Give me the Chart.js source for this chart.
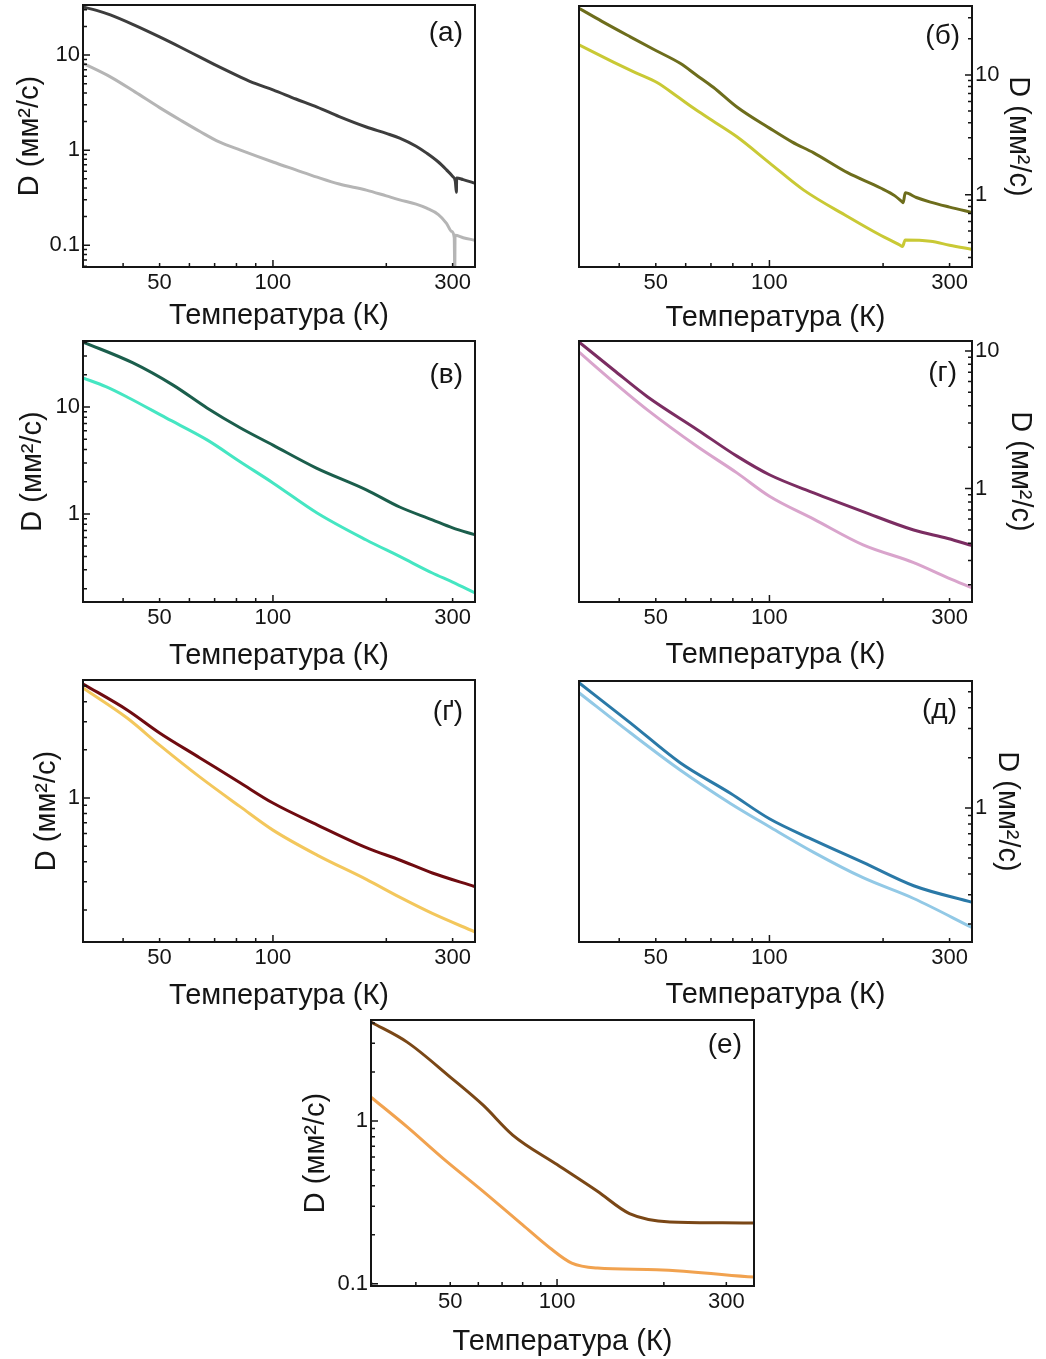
<!DOCTYPE html>
<html lang="uk">
<head>
<meta charset="UTF-8">
<title>D(T)</title>
<script src="https://cdn.jsdelivr.net/npm/chart.js@4/dist/chart.umd.min.js"></script>
<style>
  body { margin: 0; background: #fff; width: 1046px; height: 1359px; position: relative; overflow: hidden; }
  canvas { position: absolute; }
</style>
</head>
<body>
<canvas id="pA"></canvas>
<canvas id="pB"></canvas>
<canvas id="pV"></canvas>
<canvas id="pG"></canvas>
<canvas id="pGG"></canvas>
<canvas id="pD"></canvas>
<canvas id="pE"></canvas>
<script>
// tick labels
const xTicks = [50, 100, 300];
const xMinor = [30, 40, 50, 60, 70, 80, 90, 100, 200, 300];

// (а)
const tA1 = [31.3, 34, 37, 43, 50, 57, 64, 72, 82, 90, 100, 115, 131, 150, 177, 200, 217, 240, 256, 275, 289, 300, 305, 307, 307.5, 320, 343];
const dA1 = [32, 29.5, 26.4, 20.5, 15.5, 12, 9.5, 7.5, 5.87, 5.0, 4.3, 3.45, 2.84, 2.25, 1.75, 1.5, 1.34, 1.1, 0.93, 0.75, 0.62, 0.53, 0.47, 0.36, 0.51, 0.49, 0.45];
const tA2 = [31.3, 37, 43, 50, 57, 64, 72, 82, 100, 115, 131, 150, 177, 200, 217, 240, 256, 275, 289, 298, 303, 304, 304.5, 320, 343];
const dA2 = [8.2, 5.9, 4.1, 2.8, 2.05, 1.57, 1.22, 1.0, 0.75, 0.62, 0.52, 0.44, 0.38, 0.33, 0.30, 0.27, 0.245, 0.21, 0.17, 0.14, 0.12, 0.05, 0.127, 0.12, 0.113];

// (б)
const tB1 = [31.3, 36, 42.8, 50, 58, 64, 71, 82, 100, 115, 131, 161, 197, 215, 225, 226, 229, 245, 267, 300, 345];
const dB1 = [36, 28, 20.8, 16, 12.5, 10.0, 7.9, 5.4, 3.6, 2.75, 2.24, 1.53, 1.14, 0.98, 0.87, 0.86, 1.04, 0.95, 0.87, 0.79, 0.71];
const tB2 = [31.3, 38.6, 44, 50.5, 57, 64, 72, 82, 100, 123, 161, 197, 222, 225, 229, 267, 300, 345];
const dB2 = [17.8, 12.8, 10.5, 8.6, 6.6, 5.1, 4.0, 3.05, 1.85, 1.1, 0.66, 0.46, 0.38, 0.37, 0.42, 0.41, 0.38, 0.35];

// (в)
const tV1 = [31.3, 42.5, 54.3, 66.8, 81.8, 100, 130, 177, 217, 265, 300, 343];
const dV1 = [40.5, 25.8, 16, 9.8, 6.4, 4.4, 2.7, 1.68, 1.16, 0.88, 0.74, 0.64];
const tV2 = [31.3, 36, 41, 52, 67, 82, 100, 131, 177, 217, 265, 300, 343];
const dV2 = [18.7, 15.5, 12.4, 7.9, 4.9, 3.06, 1.95, 1.02, 0.57, 0.4, 0.28, 0.23, 0.183];

// (г)
const tG = [31.3, 38.6, 47.5, 64.4, 82, 100, 131, 177, 241, 297, 345];
const dG1 = [11.6, 7.3, 4.65, 2.68, 1.72, 1.26, 0.93, 0.68, 0.5, 0.434, 0.385];
const dG2 = [9.8, 5.96, 3.73, 2.02, 1.3, 0.88, 0.6, 0.39, 0.29, 0.225, 0.19];

// (ґ)
const tGG = [31.3, 41, 50, 64, 82, 100, 131, 177, 217, 265, 343];
const dGG1 = [5.16, 3.55, 2.55, 1.78, 1.24, 0.93, 0.68, 0.49, 0.41, 0.34, 0.28];
const dGG2 = [4.87, 3.16, 2.14, 1.35, 0.88, 0.63, 0.44, 0.31, 0.24, 0.19, 0.146];

// (д)
const tD = [31.3, 42.8, 58, 79, 100, 131, 177, 241, 345];
const dD1 = [5.66, 3.25, 1.87, 1.22, 0.86, 0.64, 0.47, 0.34, 0.27];
const dD2 = [4.93, 2.83, 1.69, 1.06, 0.77, 0.54, 0.38, 0.285, 0.19];

// (е)
const tE1 = [29.9, 37.8, 50, 61.9, 75, 100, 130, 160, 208, 293, 359];
const dE1 = [4.05, 3.05, 1.86, 1.25, 0.82, 0.54, 0.37, 0.27, 0.24, 0.237, 0.236];
const tE2 = [29.9, 37.8, 47.7, 61.9, 80, 95.5, 110, 130, 191, 359];
const dE2 = [1.4, 0.92, 0.59, 0.37, 0.23, 0.166, 0.134, 0.125, 0.122, 0.11];

const FONT = 'Arial, "Liberation Sans", sans-serif';
const INK = '#151515';

// box = canvas [left, top, right, bottom], plot = chart area, both in page px
const panels = [
  { id: 'pA', label: '(а)', side: 'left', box: [13, 0, 500, 333], plot: [83, 5, 475, 267], x: [31.3, 344], y: [0.059, 33.6], lab: [12, 28],
    series: [[tA1, dA1, '#3d3d3d'], [tA2, dA2, '#b5b5b5']] },
  { id: 'pB', label: '(б)', side: 'right', box: [540, 0, 1035, 335], plot: [579, 6, 972, 267], x: [31.3, 344], y: [0.25, 37.6], lab: [12, 30],
    series: [[tB1, dB1, '#6d6d1c'], [tB2, dB2, '#c9c935']] },
  { id: 'pV', label: '(в)', side: 'left', box: [16, 330, 500, 673], plot: [83, 341, 475, 602], x: [31.3, 344], y: [0.15, 41.4], lab: [12, 34],
    series: [[tV1, dV1, '#1b5e4c'], [tV2, dV2, '#45e6c2']] },
  { id: 'pG', label: '(г)', side: 'right', box: [540, 330, 1037, 672], plot: [579, 341, 972, 602], x: [31.3, 344], y: [0.15, 11.8], lab: [15, 32],
    series: [[tG, dG1, '#7b2d62'], [tG, dG2, '#d9a4cc']] },
  { id: 'pGG', label: '(ґ)', side: 'left', box: [30, 672, 500, 1013], plot: [83, 680, 475, 942], x: [31.3, 344], y: [0.126, 5.46], lab: [12, 32],
    series: [[tGG, dGG1, '#6f0b10'], [tGG, dGG2, '#f3c75c']] },
  { id: 'pD', label: '(д)', side: 'right', box: [540, 672, 1024, 1012], plot: [579, 681, 972, 942], x: [31.3, 344], y: [0.156, 5.8], lab: [15, 29],
    series: [[tD, dD1, '#2a79a7'], [tD, dD2, '#92c9e6']] },
  { id: 'pE', label: '(е)', side: 'left', box: [299, 1012, 780, 1359], plot: [371, 1020, 754, 1286], x: [29.9, 359], y: [0.097, 4.17], lab: [12, 25],
    series: [[tE1, dE1, '#7a4716'], [tE2, dE2, '#f1a24f']] }
];

const framePlugin = {
  id: 'frame',
  afterDatasetsDraw(chart, args, o) {
    const { ctx, chartArea: a, scales: { x, y } } = chart;
    ctx.save();
    ctx.strokeStyle = INK;
    ctx.lineWidth = 2;
    ctx.strokeRect(a.left, a.top, a.right - a.left, a.bottom - a.top);
    ctx.lineWidth = 1.5;
    ctx.beginPath();
    for (const v of xMinor) {
      if (v <= x.min || v >= x.max) continue;
      const px = x.getPixelForValue(v);
      const len = v === 100 ? 7 : 4;
      ctx.moveTo(px, a.bottom);
      ctx.lineTo(px, a.bottom - len);
    }
    const ex = o.side === 'left' ? a.left : a.right;
    const dir = o.side === 'left' ? 1 : -1;
    for (let e = -2; e <= 2; e++) {
      for (let k = 1; k <= 9; k++) {
        const v = k * Math.pow(10, e);
        if (v <= y.min || v >= y.max) continue;
        const py = y.getPixelForValue(v);
        const len = k === 1 ? 7 : 4;
        ctx.moveTo(ex, py);
        ctx.lineTo(ex + dir * len, py);
      }
    }
    ctx.stroke();
    ctx.fillStyle = INK;
    ctx.font = '28px ' + FONT;
    ctx.textAlign = 'right';
    ctx.textBaseline = 'middle';
    ctx.fillText(o.label, a.right - o.lab[0], a.top + o.lab[1]);
    ctx.restore();
  }
};

function decades(lo, hi) {
  const out = [];
  for (let e = -2; e <= 2; e++) {
    const v = Math.pow(10, e);
    if (v >= lo && v <= hi) out.push(v);
  }
  return out;
}

function makeChart(p) {
  const cv = document.getElementById(p.id);
  const [cl, ct, cr, cb] = p.box;
  const [pl, pt, pr, pb] = p.plot;
  cv.width = cr - cl;
  cv.height = cb - ct;
  cv.style.left = cl + 'px';
  cv.style.top = ct + 'px';
  const left = p.side === 'left';
  const yW = left ? pl - cl : cr - pr;
  const xH = cb - pb;
  const padding = left
    ? { left: 0, right: cr - pr, top: pt - ct, bottom: 0 }
    : { left: pl - cl, right: 0, top: pt - ct, bottom: 0 };
  const yTicks = decades(p.y[0], p.y[1]);

  new Chart(cv, {
    type: 'line',
    data: {
      datasets: p.series.map(s => ({
        data: s[0].map((t, i) => ({ x: t, y: s[1][i] })),
        borderColor: s[2],
        borderWidth: 3,
        pointRadius: 0,
        cubicInterpolationMode: 'monotone',
        fill: false
      }))
    },
    options: {
      responsive: false,
      animation: false,
      devicePixelRatio: 1,
      layout: { padding },
      plugins: {
        legend: { display: false },
        tooltip: { enabled: false },
        frame: { label: p.label, side: p.side, lab: p.lab }
      },
      scales: {
        x: {
          type: 'logarithmic',
          min: p.x[0], max: p.x[1],
          grid: { display: false, drawTicks: false },
          border: { display: false },
          afterBuildTicks: ax => { ax.ticks = xTicks.map(v => ({ value: v })); },
          afterFit: ax => { ax.height = xH; ax.paddingLeft = 0; ax.paddingRight = 0; },
          ticks: { autoSkip: false, maxRotation: 0, padding: 3, color: INK, font: { family: FONT, size: 22 }, callback: v => String(v) },
          title: { display: true, text: 'Температура (К)', color: INK, font: { family: FONT, size: 29 }, padding: 0 }
        },
        y: {
          type: 'logarithmic',
          position: p.side,
          min: p.y[0], max: p.y[1],
          grid: { display: false, drawTicks: false },
          border: { display: false },
          afterBuildTicks: ax => { ax.ticks = yTicks.map(v => ({ value: v })); },
          afterFit: ax => { ax.width = yW; ax.paddingTop = 0; ax.paddingBottom = 0; },
          ticks: { autoSkip: false, padding: 3, color: INK, font: { family: FONT, size: 22 }, callback: v => String(v) },
          title: { display: true, text: 'D (мм²/с)', color: INK, font: { family: FONT, size: 29 }, padding: 0 }
        }
      }
    },
    plugins: [framePlugin]
  });
}

panels.forEach(makeChart);
</script>
</body>
</html>
